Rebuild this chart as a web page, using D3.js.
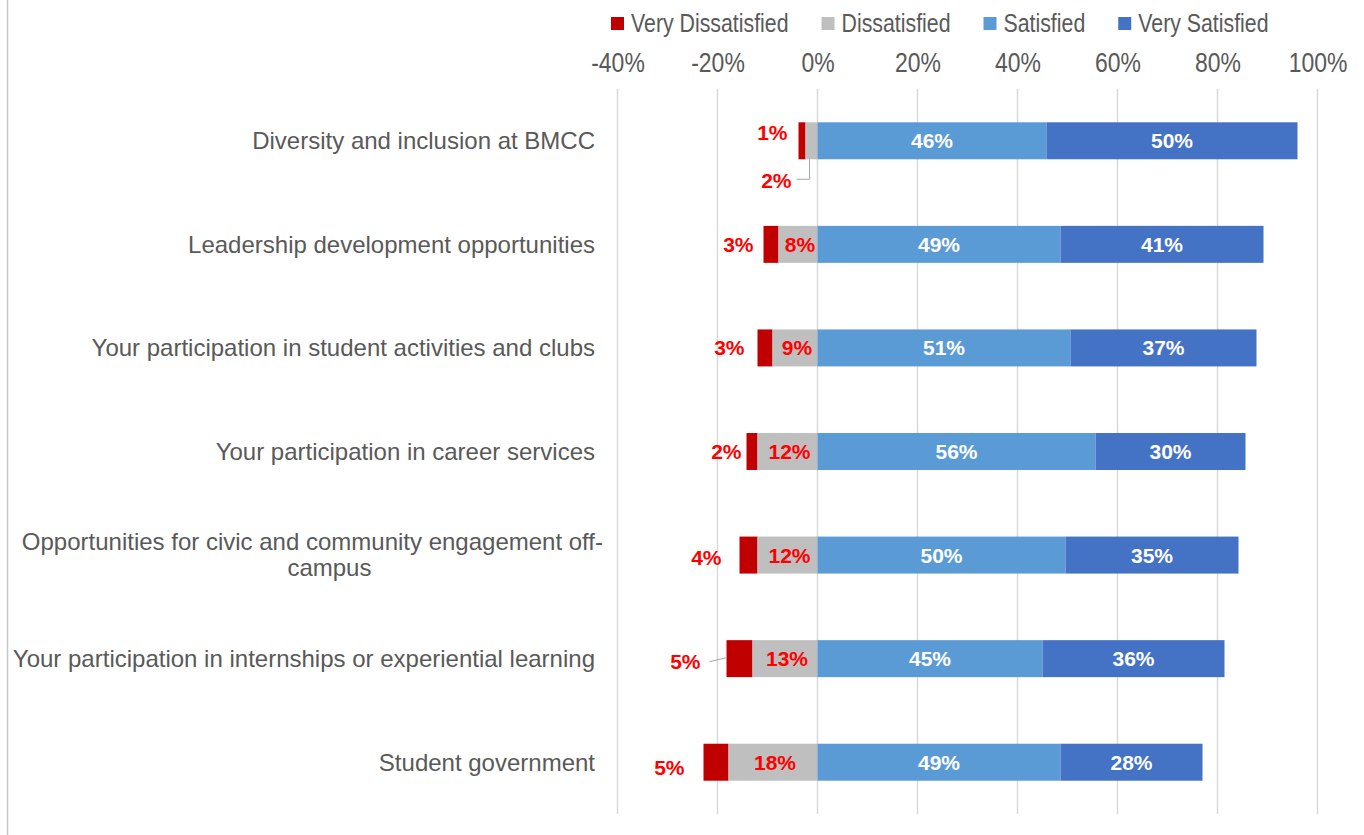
<!DOCTYPE html>
<html>
<head>
<meta charset="utf-8">
<script src="https://cdn.jsdelivr.net/npm/d3@7"></script>
<style>
  body { margin: 0; background: #fff; }
  .cat { font-family: "Liberation Sans", Arial, sans-serif; font-size: 24px; fill: #595959; }
  .tick text { font-family: "Liberation Sans", Arial, sans-serif; font-size: 28px; fill: #595959; }
  .legend text { font-family: "Liberation Sans", Arial, sans-serif; font-size: 26px; fill: #595959; }
  .lbl { font-family: "Liberation Sans", Arial, sans-serif; font-size: 21px; font-weight: bold; }
</style>
</head>
<body>
<div id="chart"></div>
<script>
// categories, top to bottom
var categories = [
  "Diversity and inclusion at BMCC",
  "Leadership development opportunities",
  "Your participation in student activities and clubs",
  "Your participation in career services",
  "Opportunities for civic and community engagement off-campus",
  "Your participation in internships or experiential learning",
  "Student government"
];
// percentages
var veryDissatisfied = [1.4, 3.0, 3.0, 2.2, 3.6, 5.2, 5.0];
var dissatisfied     = [2.4, 7.8, 9.0, 12.0, 12.0, 13.0, 17.8];
var satisfied        = [45.8, 48.6, 50.6, 55.6, 49.6, 45.0, 48.6];
var verySatisfied    = [50.2, 40.6, 37.2, 30.0, 34.6, 36.4, 28.4];

var seriesNames = ["Very Dissatisfied", "Dissatisfied", "Satisfied", "Very Satisfied"];
var tickValues = [-40, -20, 0, 20, 40, 60, 80, 100];

var colors = ["#C00000", "#BFBFBF", "#5B9BD5", "#4472C4"];
var labelRed = "#FF0000";
var narrow = 0.82; // horizontal squeeze for the narrow axis / legend font

var width = 1364, height = 835;

var svg = d3.select("#chart")
            .append("svg")
            .attr("width", width)
            .attr("height", height);

svg.append("rect").attr("width", width).attr("height", height).attr("fill", "#fff");

// left border of the chart area
svg.append("line")
   .attr("x1", 7.5).attr("x2", 7.5)
   .attr("y1", 0).attr("y2", height)
   .attr("stroke", "#c8c8c8")
   .attr("stroke-width", 1.5);

var x = d3.scaleLinear()
          .domain([-40, 100])
          .range([617.5, 1317.5]);

var y = d3.scaleBand()
          .domain(categories)
          .range([89, 814])
          .paddingInner(0.643)
          .paddingOuter(0.3215);

// gridlines
svg.append("g")
   .selectAll("line")
   .data(tickValues)
   .enter().append("line")
   .attr("x1", d => x(d)).attr("x2", d => x(d))
   .attr("y1", 89).attr("y2", 814)
   .attr("stroke", "#d9d9d9")
   .attr("stroke-width", 1.5);

// top axis
var axis = svg.append("g")
   .attr("transform", "translate(0,89)")
   .call(d3.axisTop(x).tickValues(tickValues).tickFormat(d => d + "%").tickSize(0).tickPadding(17));
axis.select(".domain").remove();
axis.selectAll(".tick text").attr("transform", "scale(" + narrow + ",1)");

// stacked rows
var rows = categories.map(function(c, i) {
  var vd = veryDissatisfied[i], ds = dissatisfied[i], s = satisfied[i], vs = verySatisfied[i];
  return {
    cat: c, i: i,
    segs: [
      {k: 0, x0: -(vd + ds), x1: -ds, v: vd},
      {k: 1, x0: -ds, x1: 0, v: ds},
      {k: 2, x0: 0, x1: s, v: s},
      {k: 3, x0: s, x1: s + vs, v: vs}
    ]
  };
});

var gRows = svg.selectAll("g.row")
   .data(rows)
   .enter().append("g")
   .attr("class", "row");

gRows.selectAll("rect")
   .data(d => d.segs.map(s => Object.assign({cat: d.cat}, s)))
   .enter().append("rect")
   .attr("x", d => x(d.x0))
   .attr("width", d => x(d.x1) - x(d.x0))
   .attr("y", d => y(d.cat))
   .attr("height", y.bandwidth())
   .attr("fill", d => colors[d.k]);

var pct = d => Math.round(d) + "%";
var bw = y.bandwidth();

// white labels on satisfied segments
rows.forEach(function(r) {
  var cy = y(r.cat) + bw / 2;
  [2, 3].forEach(function(k) {
    var s = r.segs[k];
    svg.append("text").attr("class", "lbl")
       .attr("x", (x(s.x0) + x(s.x1)) / 2)
       .attr("y", cy).attr("dy", "0.36em")
       .attr("text-anchor", "middle")
       .attr("fill", "#fff")
       .text(pct(s.v));
  });
});

// dissatisfied labels (inside grey, except first row)
rows.forEach(function(r) {
  var s = r.segs[1], cy = y(r.cat) + bw / 2;
  if (r.i === 0) {
    var lx = x(s.x0) + 4, ly = y(r.cat) + bw;
    svg.append("path")
       .attr("d", "M" + lx + "," + ly + "V" + (ly + 20) + "H" + (lx - 13))
       .attr("fill", "none").attr("stroke", "#a6a6a6").attr("stroke-width", 1);
    svg.append("text").attr("class", "lbl")
       .attr("x", lx - 18).attr("y", ly + 21).attr("dy", "0.36em")
       .attr("text-anchor", "end")
       .attr("fill", labelRed)
       .text(pct(s.v));
  } else {
    svg.append("text").attr("class", "lbl")
       .attr("x", (x(s.x0) + x(s.x1)) / 2 + 2)
       .attr("y", cy).attr("dy", "0.36em")
       .attr("text-anchor", "middle")
       .attr("fill", labelRed)
       .text(pct(s.v));
  }
});

// very dissatisfied labels, left of the bar
var vdGap = [11, 10, 13, 5, 18, 26, 19];
var vdShift = [-8, 0, 0, 0, 2, 3, 5];
rows.forEach(function(r) {
  var s = r.segs[0], cy = y(r.cat) + bw / 2 + vdShift[r.i];
  var left = x(s.x0);
  if (r.i === 5) {
    svg.append("line")
       .attr("x1", left - 17).attr("y1", cy)
       .attr("x2", left).attr("y2", cy - 4)
       .attr("stroke", "#a6a6a6").attr("stroke-width", 1);
  }
  svg.append("text").attr("class", "lbl")
     .attr("x", left - vdGap[r.i]).attr("y", cy).attr("dy", "0.36em")
     .attr("text-anchor", "end")
     .attr("fill", labelRed)
     .text(pct(s.v));
});

// category labels
var catRight = 595;
rows.forEach(function(r) {
  var cy = y(r.cat) + bw / 2;
  if (r.cat.indexOf("off-campus") > -1) {
    var t1 = svg.append("text").attr("class", "cat")
       .attr("x", catRight + 8).attr("y", cy - 13).attr("dy", "0.35em")
       .attr("text-anchor", "end")
       .text("Opportunities for civic and community engagement off-");
    var w = t1.node().getComputedTextLength();
    svg.append("text").attr("class", "cat")
       .attr("x", catRight + 8 - w / 2 + 17).attr("y", cy + 13).attr("dy", "0.35em")
       .attr("text-anchor", "middle")
       .text("campus");
  } else {
    svg.append("text").attr("class", "cat")
       .attr("x", catRight).attr("y", cy).attr("dy", "0.35em")
       .attr("text-anchor", "end")
       .text(r.cat);
  }
});

// legend
var legend = svg.append("g").attr("class", "legend");
var lx = 611;
seriesNames.forEach(function(name, i) {
  legend.append("rect")
     .attr("x", lx).attr("y", 17)
     .attr("width", 13).attr("height", 13)
     .attr("fill", colors[i]);
  var t = legend.append("text")
     .attr("transform", "translate(" + (lx + 20) + ",23) scale(" + narrow + ",1)")
     .attr("dy", "0.35em")
     .text(name);
  lx += 20 + t.node().getComputedTextLength() * narrow + 33;
});
</script>
</body>
</html>
